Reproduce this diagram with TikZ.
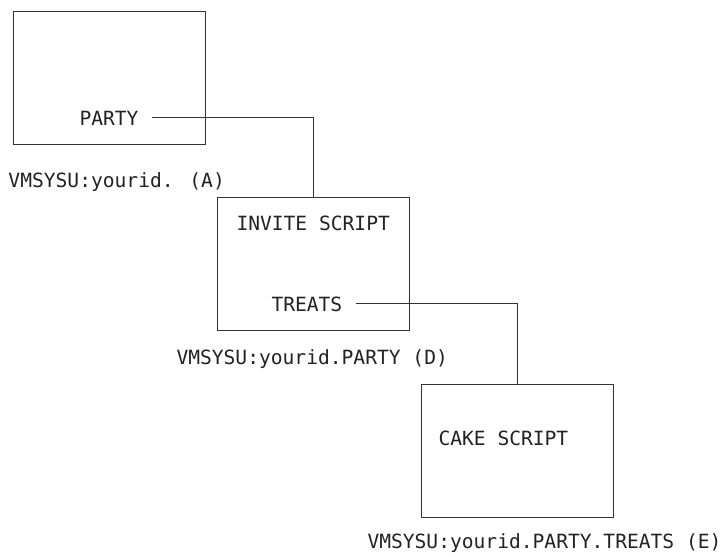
\documentclass[tikz,border=0pt]{standalone}
\usepackage{fontspec}
\newfontfamily\monofont{DejaVu Sans Mono}
\tikzset{every picture/.style={line width=0.75pt}}
\tikzset{
  scriptbox/.style={draw={rgb, 255:red, 51; green, 51; blue, 51}, minimum width=144pt, minimum height=99.75pt, inner sep=0pt, anchor=north west},
  monotext/.style={font=\monofont\fontsize{14.7pt}{17pt}\selectfont, text={rgb, 255:red, 34; green, 34; blue, 34}, inner sep=0.75pt, anchor=base west},
  wire/.style={draw={rgb, 255:red, 51; green, 51; blue, 51}}
}
\begin{document}
\begin{tikzpicture}[x=0.75pt,y=0.75pt,yscale=-1,xscale=1]
\useasboundingbox (0,0) rectangle (725,557);

%Shape: Rectangle [id:boxA]
\node [scriptbox] (boxA) at (13,11) {};
%Shape: Rectangle [id:boxD]
\node [scriptbox] (boxD) at (217,197) {};
%Shape: Rectangle [id:boxE]
\node [scriptbox] (boxE) at (421,384) {};

% Text Node
\node [monotext] (party) at (78,125) {PARTY};
% Text Node
\node [monotext] (invite) at (235,230) {INVITE SCRIPT};
% Text Node
\node [monotext] (treats) at (270,311) {TREATS};
% Text Node
\node [monotext] (cake) at (437,445) {CAKE SCRIPT};

% Text Node
\node [monotext] (pathA) at (7,187) {VMSYSU:yourid. (A)};
% Text Node
\node [monotext] (pathD) at (175,364) {VMSYSU:yourid.PARTY (D)};
% Text Node
\node [monotext] (pathE) at (366,548) {VMSYSU:yourid.PARTY.TREATS (E)};

%Straight Lines [id:wirePartyInvite]
\draw [wire] ([xshift=9pt]party.east) -| (boxD.north) ;
%Straight Lines [id:wireTreatsCake]
\draw [wire] ([xshift=9pt]treats.east) -| (boxE.north) ;

\end{tikzpicture}
\end{document}
